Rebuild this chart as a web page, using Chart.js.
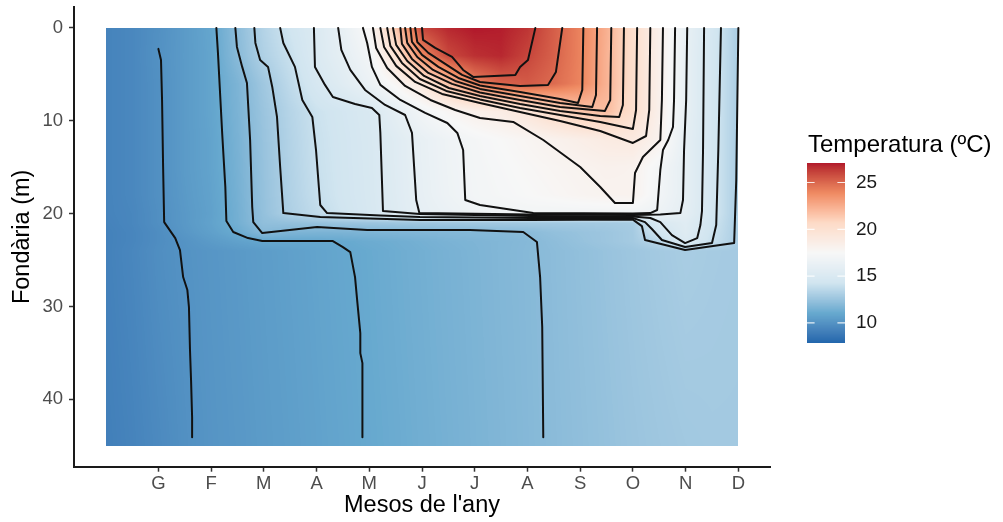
<!DOCTYPE html>
<html>
<head>
<meta charset="utf-8">
<title>Temperatura de l'aigua</title>
<script src="https://cdn.jsdelivr.net/npm/chart.js@4.4.1/dist/chart.umd.min.js"></script>
<style>
  html, body { margin: 0; padding: 0; background: #ffffff; }
  #wrap { width: 1003px; height: 522px; }
</style>
</head>
<body>
<div id="wrap"><canvas id="chart" width="1003" height="522"></canvas></div>
<script>
// ---- Axes -------------------------------------------------------------
const monthTicks  = [1, 2, 3, 4, 5, 6, 7, 8, 9, 10, 11, 12];
const monthLabels = ['G', 'F', 'M', 'A', 'M', 'J', 'J', 'A', 'S', 'O', 'N', 'D'];
const depthTicks  = [0, 10, 20, 30, 40];

// ---- Temperature field (ºC): columns every half month, rows at gridDepths (m)
const gridMonths = [0, 0.5, 1, 1.5, 2, 2.5, 3, 3.5, 4, 4.5, 5, 5.5, 6, 6.5, 7, 7.5, 8, 8.5, 9, 9.5, 10, 10.5, 11, 11.5, 12];
const gridDepths = [0, 3, 6, 9, 12, 15, 18, 20, 21, 22, 23, 24, 45];

const temp0  = [9.3, 9.5, 9.9, 10.4, 10.9, 12.1, 13.35, 14.3, 15.1, 16.2, 17.6, 21.4, 26.0, 26.8, 27.1, 27.0, 26.5, 25.3, 24.1, 22.4, 20.3, 18.3, 16.2, 14.6, 13.0];
const temp3  = [9.3, 9.5, 9.95, 10.4, 10.85, 12.0, 13.2, 14.0, 15.05, 15.95, 17.0, 19.8, 23.9, 25.95, 26.6, 26.8, 26.05, 25.2, 24.1, 22.3, 20.3, 18.3, 16.1, 14.5, 13.0];
const temp6  = [9.3, 9.5, 9.9, 10.4, 10.85, 11.65, 12.7, 13.7, 14.7, 15.5, 16.45, 17.7, 19.25, 21.7, 24.0, 25.1, 25.4, 24.9, 24.05, 22.3, 20.3, 18.3, 16.1, 14.5, 13.0];
const temp9  = [9.3, 9.5, 9.9, 10.4, 10.85, 11.6, 12.55, 13.4, 14.1, 14.5, 14.9, 15.9, 16.95, 17.7, 18.3, 18.7, 19.45, 20.6, 21.5, 21.9, 20.2, 18.3, 16.1, 14.5, 13.0];
const temp12 = [9.3, 9.5, 9.9, 10.4, 10.8, 11.55, 12.48, 13.32, 14.02, 14.43, 14.83, 15.47, 16.2, 16.74, 17.17, 17.5, 17.8, 18.15, 18.5, 18.85, 19.05, 18.1, 15.95, 14.5, 13.0];
const temp15 = [9.3, 9.5, 9.9, 10.4, 10.8, 11.5, 12.43, 13.27, 13.99, 14.4, 14.81, 15.44, 16.16, 16.7, 17.09, 17.35, 17.6, 17.8, 18.0, 18.2, 18.1, 17.1, 15.95, 14.5, 13.0];
const temp18 = [9.3, 9.5, 9.9, 10.35, 10.75, 11.45, 12.39, 13.22, 13.91, 14.37, 14.78, 15.39, 16.12, 16.65, 17.05, 17.25, 17.45, 17.65, 17.85, 18.0, 18.05, 17.0, 15.95, 14.5, 13.0];
const temp20 = [9.3, 9.45, 9.85, 10.3, 10.7, 11.4, 12.35, 13.15, 13.75, 14.27, 14.74, 15.33, 16.0, 16.4, 16.8, 16.9, 17.0, 16.95, 16.95, 16.95, 16.9, 16.6, 15.85, 14.5, 13.0];
const temp21 = [9.25, 9.45, 9.85, 10.3, 10.75, 11.4, 12.25, 12.35, 12.45, 12.55, 12.6, 12.65, 12.7, 12.72, 12.75, 12.77, 12.8, 12.8, 12.82, 12.85, 12.95, 14.9, 15.5, 14.3, 13.0];
const temp22 = [9.2, 9.4, 9.75, 10.23, 10.65, 11.15, 11.95, 11.7, 11.65, 11.65, 11.7, 11.75, 11.8, 11.85, 11.9, 11.95, 12.05, 12.3, 12.45, 12.6, 12.85, 14.4, 15.4, 14.15, 13.0];
const temp23 = [9.2, 9.4, 9.75, 10.05, 10.4, 10.7, 10.95, 10.97, 10.98, 11.05, 11.2, 11.3, 11.45, 11.6, 11.7, 11.8, 11.92, 12.15, 12.4, 12.6, 12.85, 13.55, 15.15, 14.0, 13.0];
const temp24 = [9.2, 9.45, 9.8, 10.02, 10.18, 10.33, 10.49, 10.65, 10.8, 10.96, 11.1, 11.25, 11.39, 11.53, 11.67, 11.81, 11.94, 12.1, 12.28, 12.46, 12.64, 12.82, 12.98, 12.9, 12.85];
const temp45 = [9.1, 9.3, 9.6, 9.9, 10.11, 10.26, 10.42, 10.57, 10.73, 10.88, 11.04, 11.18, 11.33, 11.47, 11.62, 11.76, 11.91, 12.06, 12.22, 12.38, 12.53, 12.65, 12.75, 12.8, 12.8];
const tempRows = [temp0, temp3, temp6, temp9, temp12, temp15, temp18, temp20, temp21, temp22, temp23, temp24, temp45];

// ---- Isotherms: [month, depth] vertices, one line per whole degree ----
const iso10 = [[1.00,2.26],[1.05,3.45],[1.07,7.76],[1.09,14.98],[1.11,20.91],[1.32,22.63],[1.41,23.92],[1.47,26.83],[1.55,28.23],[1.58,30.06],[1.60,34.70],[1.62,37.93],[1.64,41.92],[1.64,44.07]];
const iso11 = [[2.10,0],[2.13,2.69],[2.21,11.31],[2.27,17.13],[2.29,20.80],[2.42,21.98],[2.70,22.63],[2.97,22.95],[4.31,22.95],[4.50,23.60],[4.64,24.14],[4.73,26.83],[4.77,29.31],[4.83,32.87],[4.83,35.02],[4.87,36.10],[4.87,44.07]];
const iso12 = [[2.46,0],[2.49,2.05],[2.59,4.20],[2.68,5.93],[2.74,12.07],[2.78,19.29],[2.80,20.91],[2.97,22.09],[4.01,21.44],[4.96,21.77],[5.96,21.77],[6.91,21.77],[7.92,21.98],[8.18,23.06],[8.24,26.83],[8.28,32.22],[8.30,44.07]];
const iso13 = [[2.82,0],[2.84,1.62],[2.93,3.45],[3.08,4.20],[3.16,6.36],[3.25,9.59],[3.31,14.98],[3.37,19.94],[4.07,20.37],[5.96,20.69],[8.05,20.69],[10.00,20.64],[10.17,21.34],[10.23,22.84],[10.61,23.38],[10.99,23.92],[11.92,23.17],[11.96,16.38],[12.00,0]];
const iso14 = [[3.31,0],[3.37,1.62],[3.59,4.20],[3.73,7.76],[3.92,9.59],[3.99,13.15],[4.07,19.07],[4.20,19.94],[5.21,20.20],[5.96,20.37],[8.05,20.47],[10.00,20.47],[10.23,20.91],[10.36,21.66],[10.55,22.84],[10.99,23.60],[11.50,23.17],[11.58,21.23],[11.62,13.15],[11.67,0]];
const iso15 = [[3.95,0],[3.97,4.20],[4.16,6.14],[4.31,7.44],[4.73,8.19],[5.05,8.62],[5.19,9.38],[5.21,11.31],[5.26,19.72],[5.96,20.04],[8.05,20.26],[10.00,20.31],[10.33,20.47],[10.52,20.91],[10.74,22.31],[10.99,23.17],[11.22,22.63],[11.28,21.23],[11.31,19.72],[11.33,13.15],[11.35,0]];
const iso16 = [[4.41,0],[4.47,2.37],[4.64,4.53],[4.92,6.68],[5.30,8.30],[5.68,9.38],[5.81,11.31],[5.89,18.53],[5.95,19.94],[8.05,20.10],[10.00,20.15],[10.52,20.10],[10.90,19.94],[10.95,18.53],[10.97,13.15],[11.01,7.76],[11.03,0]];
const iso17 = [[4.88,0],[4.96,1.62],[5.05,4.20],[5.21,6.14],[5.59,7.76],[6.06,9.16],[6.48,10.24],[6.67,11.31],[6.78,13.15],[6.82,18.53],[7.10,19.07],[8.11,19.94],[10.00,19.99],[10.33,19.94],[10.46,19.61],[10.52,15.30],[10.57,13.15],[10.67,12.07],[10.76,10.67],[10.78,7.76],[10.80,0]];
const iso18 = [[5.07,0],[5.13,2.16],[5.34,4.31],[5.68,6.25],[6.16,7.76],[6.63,8.84],[7.10,9.70],[7.73,10.13],[8.30,12.07],[9.00,14.98],[9.38,17.13],[9.66,18.86],[10.00,18.86],[10.04,15.63],[10.19,13.90],[10.52,12.07],[10.55,7.76],[10.57,0]];
const iso19 = [[5.21,0],[5.28,2.05],[5.51,4.09],[5.87,5.82],[6.38,7.11],[7.10,8.08],[7.86,9.05],[8.62,10.02],[9.38,11.10],[10.00,12.39],[10.25,11.64],[10.31,8.84],[10.33,0]];
const iso20 = [[5.34,0],[5.40,1.94],[5.62,3.77],[5.96,5.50],[6.46,6.79],[7.10,7.70],[7.86,8.62],[8.62,9.38],[9.38,10.13],[10.00,10.88],[10.06,8.84],[10.08,0]];
const iso21 = [[5.45,0],[5.51,1.83],[5.72,3.56],[6.04,5.17],[6.51,6.47],[7.10,7.33],[7.86,8.19],[8.62,8.94],[9.38,9.48],[9.74,9.59],[9.81,8.30],[9.83,0]];
const iso22 = [[5.59,0],[5.62,1.72],[5.81,3.34],[6.12,4.85],[6.57,6.03],[7.10,6.95],[7.86,7.76],[8.62,8.51],[9.47,8.94],[9.57,7.76],[9.59,0]];
const iso23 = [[5.68,0],[5.72,1.62],[5.91,3.13],[6.21,4.53],[6.63,5.71],[7.10,6.57],[7.86,7.33],[8.62,8.08],[9.23,8.51],[9.30,7.22],[9.32,0]];
const iso24 = [[5.78,0],[5.81,1.51],[6.00,2.91],[6.31,4.20],[6.69,5.39],[7.10,6.20],[7.86,6.90],[8.62,7.65],[8.96,8.08],[9.04,6.68],[9.06,0]];
const iso25 = [[5.87,0],[5.91,1.51],[6.12,2.69],[6.44,3.88],[6.76,5.06],[7.10,5.82],[7.86,6.25],[8.39,6.14],[8.54,4.74],[8.60,2.37],[8.66,0]];
const iso26 = [[6.00,0],[6.02,1.29],[6.25,2.16],[6.57,3.13],[6.78,4.53],[6.97,5.28],[7.77,5.06],[7.86,4.20],[8.01,3.45],[8.15,0]];
const isoLevels = [10, 11, 12, 13, 14, 15, 16, 17, 18, 19, 20, 21, 22, 23, 24, 25, 26];
const isoLines  = [iso10, iso11, iso12, iso13, iso14, iso15, iso16, iso17, iso18, iso19, iso20, iso21, iso22, iso23, iso24, iso25, iso26];

// ---- Colour scale (RdBu, blue = cold) ---------------------------------
const scaleMin = 7.86;
const scaleMax = 27.08;
const legendBreaks = [10, 15, 20, 25];
const paletteRdBu = ['#2166AC', '#67A9CF', '#D1E5F0', '#F7F7F7', '#FDDBC7', '#EF8A62', '#B2182B'];

const FONT = "'Liberation Sans', Arial, Helvetica, sans-serif";

// sRGB <-> CIE Lab, so the gradient is blended perceptually
function hexToRgb(h) { return [parseInt(h.slice(1, 3), 16), parseInt(h.slice(3, 5), 16), parseInt(h.slice(5, 7), 16)]; }
function rgbToLab(rgb) {
  const lin = c => { c /= 255; return c <= 0.04045 ? c / 12.92 : Math.pow((c + 0.055) / 1.055, 2.4); };
  const R = lin(rgb[0]), G = lin(rgb[1]), B = lin(rgb[2]);
  const X = (0.4124564 * R + 0.3575761 * G + 0.1804375 * B) / 0.95047;
  const Y = (0.2126729 * R + 0.7151522 * G + 0.0721750 * B);
  const Z = (0.0193339 * R + 0.1191920 * G + 0.9503041 * B) / 1.08883;
  const f = t => t > 216 / 24389 ? Math.cbrt(t) : (24389 / 27 * t + 16) / 116;
  const fx = f(X), fy = f(Y), fz = f(Z);
  return [116 * fy - 16, 500 * (fx - fy), 200 * (fy - fz)];
}
function labToRgb(lab) {
  const fy = (lab[0] + 16) / 116, fx = fy + lab[1] / 500, fz = fy - lab[2] / 200;
  const finv = t => { const t3 = t * t * t; return t3 > 216 / 24389 ? t3 : (116 * t - 16) / (24389 / 27); };
  const X = finv(fx) * 0.95047, Y = finv(fy), Z = finv(fz) * 1.08883;
  const R =  3.2404542 * X - 1.5371385 * Y - 0.4985314 * Z;
  const G = -0.9692660 * X + 1.8760108 * Y + 0.0415560 * Z;
  const B =  0.0556434 * X - 0.2040259 * Y + 1.0572252 * Z;
  const gam = c => { c = c <= 0.0031308 ? 12.92 * c : 1.055 * Math.pow(c, 1 / 2.4) - 0.055; return Math.max(0, Math.min(255, Math.round(c * 255))); };
  return [gam(R), gam(G), gam(B)];
}
const paletteLab = paletteRdBu.map(h => rgbToLab(hexToRgb(h)));
const LUT_SIZE = 600;
const colourLut = [];
for (let i = 0; i < LUT_SIZE; i++) {
  const p = i / (LUT_SIZE - 1) * (paletteLab.length - 1);
  const k = Math.min(paletteLab.length - 2, Math.floor(p));
  const t = p - k;
  const a = paletteLab[k], b = paletteLab[k + 1];
  colourLut.push(labToRgb([a[0] + (b[0] - a[0]) * t, a[1] + (b[1] - a[1]) * t, a[2] + (b[2] - a[2]) * t]));
}
function colourFor(v) {
  let t = (v - scaleMin) / (scaleMax - scaleMin);
  t = Math.max(0, Math.min(1, t));
  return colourLut[Math.round(t * (LUT_SIZE - 1))];
}

// bilinear lookup in the temperature field
function locate(arr, v) {
  if (v <= arr[0]) return [0, 0];
  if (v >= arr[arr.length - 1]) return [arr.length - 2, 1];
  let i = 0;
  while (arr[i + 1] < v) i++;
  return [i, (v - arr[i]) / (arr[i + 1] - arr[i])];
}
function tempAt(m, d) {
  const [i, tx] = locate(gridMonths, m);
  const [j, ty] = locate(gridDepths, d);
  const r0 = tempRows[j], r1 = tempRows[j + 1];
  const top = r0[i] * (1 - tx) + r0[i + 1] * tx;
  const bot = r1[i] * (1 - tx) + r1[i + 1] * tx;
  return top * (1 - ty) + bot * ty;
}

// paint a w x h block pixel by pixel from a colour callback
function paintBlock(ctx, left, top, w, h, colourAt) {
  const off = document.createElement('canvas');
  off.width = w; off.height = h;
  const octx = off.getContext('2d');
  const img = octx.createImageData(w, h);
  for (let py = 0; py < h; py++) {
    for (let px = 0; px < w; px++) {
      const c = colourAt(px, py);
      const k = (py * w + px) * 4;
      img.data[k] = c[0]; img.data[k + 1] = c[1]; img.data[k + 2] = c[2]; img.data[k + 3] = 255;
    }
  }
  octx.putImageData(img, 0, 0);
  ctx.drawImage(off, left, top);
}

// Raster of the temperature field, painted under the isotherms
const heatmapPlugin = {
  id: 'heatmap',
  beforeDatasetsDraw(chart) {
    const { ctx, scales: { x, y } } = chart;
    const x0 = Math.round(x.getPixelForValue(gridMonths[0]));
    const x1 = Math.round(x.getPixelForValue(gridMonths[gridMonths.length - 1]));
    const y0 = Math.round(y.getPixelForValue(gridDepths[0]));
    const y1 = Math.round(y.getPixelForValue(gridDepths[gridDepths.length - 1]));
    const months = [], depths = [];
    for (let px = 0; px < x1 - x0; px++) months.push(x.getValueForPixel(x0 + px + 0.5));
    for (let py = 0; py < y1 - y0; py++) depths.push(y.getValueForPixel(y0 + py + 0.5));
    ctx.save();
    paintBlock(ctx, x0, y0, x1 - x0, y1 - y0, (px, py) => colourFor(tempAt(months[px], depths[py])));
    ctx.restore();
  }
};

// Continuous colour bar with its title and breaks
const colourbarPlugin = {
  id: 'colourbar',
  afterDraw(chart) {
    const ctx = chart.ctx;
    const bar = { left: 807, top: 163, width: 38, height: 180 };
    ctx.save();
    ctx.fillStyle = '#000000';
    ctx.font = '24px ' + FONT;
    ctx.textAlign = 'left';
    ctx.textBaseline = 'alphabetic';
    ctx.fillText('Temperatura (ºC)', 808, 152);

    paintBlock(ctx, bar.left, bar.top, bar.width, bar.height,
      (px, py) => colourFor(scaleMax - (py + 0.5) / bar.height * (scaleMax - scaleMin)));

    const yOf = v => bar.top + bar.height - (v - scaleMin) / (scaleMax - scaleMin) * bar.height;
    ctx.strokeStyle = 'rgba(255,255,255,0.85)';
    ctx.lineWidth = 1.2;
    const tick = bar.width / 5;
    legendBreaks.forEach(v => {
      const yy = yOf(v);
      ctx.beginPath();
      ctx.moveTo(bar.left, yy); ctx.lineTo(bar.left + tick, yy);
      ctx.moveTo(bar.left + bar.width - tick, yy); ctx.lineTo(bar.left + bar.width, yy);
      ctx.stroke();
    });
    ctx.fillStyle = '#1a1a1a';
    ctx.font = '19px ' + FONT;
    ctx.textBaseline = 'middle';
    legendBreaks.forEach(v => ctx.fillText(String(v), 856, yOf(v)));
    ctx.restore();
  }
};

const datasets = isoLines.map((pts, k) => ({
  label: isoLevels[k] + ' ºC',
  data: pts.map(p => ({ x: p[0], y: p[1] })),
  showLine: true,
  fill: false,
  tension: 0,
  borderColor: '#111111',
  borderWidth: 2,
  borderJoinStyle: 'round',
  borderCapStyle: 'round',
  pointRadius: 0,
  pointHoverRadius: 0
}));

new Chart(document.getElementById('chart'), {
  type: 'scatter',
  data: { datasets },
  plugins: [heatmapPlugin, colourbarPlugin],
  options: {
    responsive: false,
    animation: false,
    devicePixelRatio: 1,
    events: [],
    layout: { padding: { left: 0, top: 7, right: 233, bottom: 0 } },
    plugins: { legend: { display: false }, tooltip: { enabled: false } },
    scales: {
      x: {
        type: 'linear',
        min: -0.6,
        max: 12.6,
        afterBuildTicks: s => { s.ticks = monthTicks.map(v => ({ value: v })); },
        afterFit: s => { s.height = 55.3; s.paddingLeft = 0; s.paddingRight = 0; },
        ticks: {
          autoSkip: false, maxRotation: 0, padding: 1.5,
          color: '#4D4D4D',
          font: { family: FONT, size: 18.5 },
          callback: v => monthLabels[monthTicks.indexOf(v)]
        },
        grid: { display: true, drawOnChartArea: false, drawTicks: true, tickLength: 5, color: '#333333', tickColor: '#333333', tickWidth: 1.5 },
        border: { display: true, color: '#1a1a1a', width: 2 },
        title: { display: true, text: "Mesos de l'any", color: '#000000', font: { family: FONT, size: 23.5 }, padding: { top: 0, bottom: 2 } }
      },
      y: {
        type: 'linear',
        reverse: true,
        min: -2.25,
        max: 47.25,
        afterBuildTicks: s => { s.ticks = depthTicks.map(v => ({ value: v })); },
        afterFit: s => { s.width = 74; s.paddingTop = 0; s.paddingBottom = 0; },
        ticks: {
          padding: 6,
          color: '#4D4D4D',
          font: { family: FONT, size: 18.5 }
        },
        grid: { display: true, drawOnChartArea: false, drawTicks: true, tickLength: 5, color: '#333333', tickColor: '#333333', tickWidth: 1.5 },
        border: { display: true, color: '#1a1a1a', width: 2 },
        title: { display: true, text: 'Fondària (m)', color: '#000000', font: { family: FONT, size: 23.5 }, padding: { top: 8, bottom: 0 } }
      }
    }
  }
});
</script>
</body>
</html>
